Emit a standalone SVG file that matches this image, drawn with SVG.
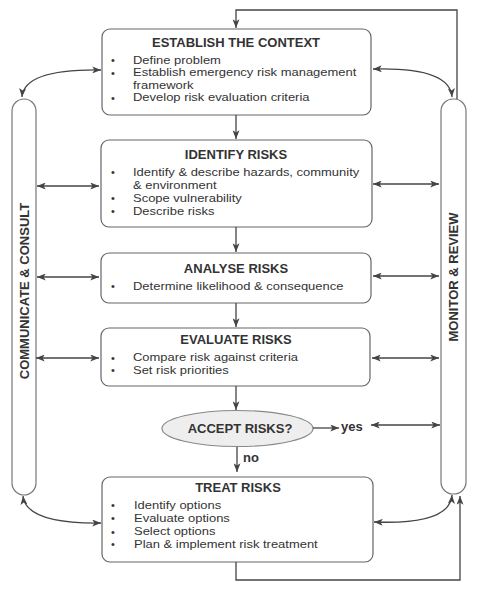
<svg xmlns="http://www.w3.org/2000/svg" width="480" height="591" viewBox="0 0 480 591">
<defs>
<marker id="ah" viewBox="0 0 10 8" refX="10" refY="4" markerWidth="9" markerHeight="7" markerUnits="userSpaceOnUse" orient="auto-start-reverse">
<path d="M0,0 L10,4 L0,8 L2.5,4 Z" fill="#444"/>
</marker>
</defs>
<style>
.box{fill:#fff;stroke:#666;stroke-width:1.2}
.rail{fill:#fff;stroke:#777;stroke-width:1.2}
.t{font-family:"Liberation Sans",Arial,sans-serif;font-weight:bold;font-size:13px;fill:#333;text-anchor:middle}
.b{font-family:"Liberation Sans",Arial,sans-serif;font-size:11px;fill:#333}
.c{fill:none;stroke:#444;stroke-width:1.3}
</style>
<rect width="480" height="591" fill="#fff"/>

<g id="communicate">
<rect class="rail" x="12" y="99" width="24" height="396" rx="12"/>
<text class="t" transform="translate(29,291) rotate(-90)">COMMUNICATE &amp; CONSULT</text>
</g>
<g id="monitor">
<rect class="rail" x="441" y="99" width="25" height="395" rx="12"/>
<text class="t" transform="translate(458,277) rotate(-90)">MONITOR &amp; REVIEW</text>
</g>

<g id="context">
<rect class="box" x="102" y="29" width="269" height="86" rx="8"/>
<text class="t" x="236" y="47">ESTABLISH THE CONTEXT</text>
<text class="b" x="111" y="64">•</text>
<text class="b" x="111" y="76.5">•</text>
<text class="b" x="111" y="101.5">•</text>
<g transform="translate(133,0) scale(1.18,1)">
<text class="b" x="0" y="64">Define problem</text>
<text class="b" x="0" y="76.5">Establish emergency risk management</text>
<text class="b" x="0" y="89">framework</text>
<text class="b" x="0" y="101.5">Develop risk evaluation criteria</text>
</g>
</g>

<g id="identify">
<rect class="box" x="101" y="140" width="271" height="87" rx="8"/>
<text class="t" x="236" y="159">IDENTIFY RISKS</text>
<text class="b" x="111" y="176">•</text>
<text class="b" x="111" y="202">•</text>
<text class="b" x="111" y="215">•</text>
<g transform="translate(133,0) scale(1.18,1)">
<text class="b" x="0" y="176">Identify &amp; describe hazards, community</text>
<text class="b" x="0" y="189">&amp; environment</text>
<text class="b" x="0" y="202">Scope vulnerability</text>
<text class="b" x="0" y="215">Describe risks</text>
</g>
</g>

<g id="analyse">
<rect class="box" x="101" y="253" width="270" height="50" rx="8"/>
<text class="t" x="236" y="272.5">ANALYSE RISKS</text>
<text class="b" x="111" y="290">•</text>
<g transform="translate(133,0) scale(1.18,1)">
<text class="b" x="0" y="290">Determine likelihood &amp; consequence</text>
</g>
</g>

<g id="evaluate">
<rect class="box" x="101" y="328" width="269" height="58" rx="8"/>
<text class="t" x="236" y="344">EVALUATE RISKS</text>
<text class="b" x="111" y="361.5">•</text>
<text class="b" x="111" y="374">•</text>
<g transform="translate(133,0) scale(1.18,1)">
<text class="b" x="0" y="361.5">Compare risk against criteria</text>
<text class="b" x="0" y="374">Set risk priorities</text>
</g>
</g>

<g id="accept">
<ellipse cx="237.5" cy="428.5" rx="75.5" ry="18" fill="#eee" stroke="#888" stroke-width="1.2"/>
<text class="t" x="240" y="433">ACCEPT RISKS?</text>
</g>

<g id="treat">
<rect class="box" x="102" y="477" width="271" height="85" rx="8"/>
<text class="t" x="238" y="492">TREAT RISKS</text>
<text class="b" x="111" y="509">•</text>
<text class="b" x="111" y="522">•</text>
<text class="b" x="111" y="535.5">•</text>
<text class="b" x="111" y="548">•</text>
<g transform="translate(134,0) scale(1.18,1)">
<text class="b" x="0" y="509">Identify options</text>
<text class="b" x="0" y="522">Evaluate options</text>
<text class="b" x="0" y="535.5">Select options</text>
<text class="b" x="0" y="548">Plan &amp; implement risk treatment</text>
</g>
</g>

<g id="connectors">
<path class="c" d="M457,99 V10 H236 V28" marker-end="url(#ah)"/>
<path class="c" d="M236,115 V139" marker-end="url(#ah)"/>
<path class="c" d="M236,227 V252" marker-end="url(#ah)"/>
<path class="c" d="M236,303 V327" marker-end="url(#ah)"/>
<path class="c" d="M236,386 V410" marker-end="url(#ah)"/>
<path class="c" d="M237,447 V472" marker-end="url(#ah)"/>
<path class="c" d="M313,428 H339" marker-end="url(#ah)"/>
<path class="c" d="M236,562 V580 H460 V496" marker-end="url(#ah)"/>

<path class="c" d="M22,97 Q24,69 101,70" marker-start="url(#ah)" marker-end="url(#ah)"/>
<path class="c" d="M373,69 Q450,67 452,97" marker-start="url(#ah)" marker-end="url(#ah)"/>
<path class="c" d="M23,496 Q26,524 101,523" marker-start="url(#ah)" marker-end="url(#ah)"/>
<path class="c" d="M374,522 Q450,525 452,495" marker-start="url(#ah)" marker-end="url(#ah)"/>

<path class="c" d="M37,186 H99" marker-start="url(#ah)" marker-end="url(#ah)"/>
<path class="c" d="M373,184 H439" marker-start="url(#ah)" marker-end="url(#ah)"/>
<path class="c" d="M37,277 H99" marker-start="url(#ah)" marker-end="url(#ah)"/>
<path class="c" d="M373,276 H439" marker-start="url(#ah)" marker-end="url(#ah)"/>
<path class="c" d="M36,358 H99" marker-start="url(#ah)" marker-end="url(#ah)"/>
<path class="c" d="M372,358 H439" marker-start="url(#ah)" marker-end="url(#ah)"/>
<path class="c" d="M371,425 H440" marker-start="url(#ah)" marker-end="url(#ah)"/>

<text class="t" x="341" y="431" style="text-anchor:start">yes</text>
<text class="t" x="243" y="462" style="text-anchor:start">no</text>
</g>
</svg>
